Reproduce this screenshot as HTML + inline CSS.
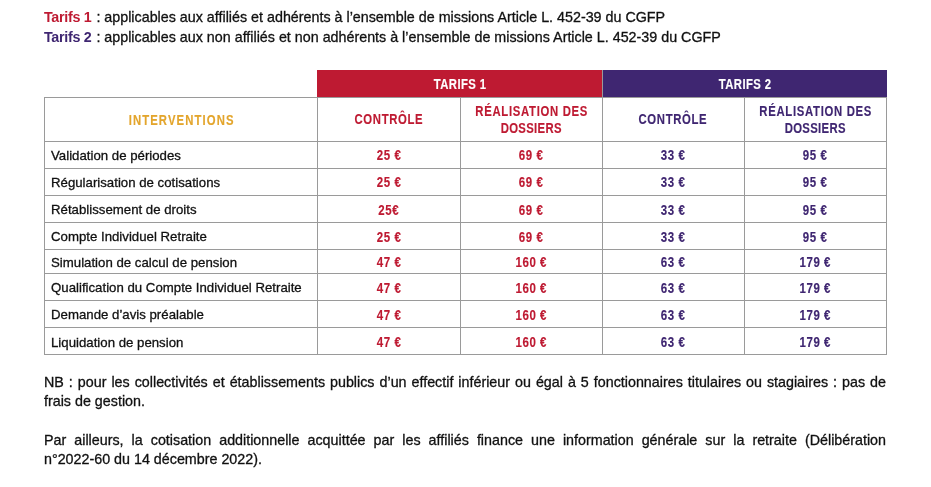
<!DOCTYPE html>
<html><head><meta charset="utf-8"><style>
html,body{margin:0;padding:0;background:#fff;}
body{width:931px;height:487px;position:relative;overflow:hidden;font-family:"Liberation Sans", sans-serif;color:#111111;filter:blur(0.5px);}
.a{position:absolute;white-space:nowrap;-webkit-text-stroke:0.3px currentColor;}
.a b{-webkit-text-stroke:0;}
.h{position:absolute;height:1px;background:#9a9a9a;}
.v{position:absolute;width:1px;background:#9a9a9a;}
.c{position:absolute;text-align:center;white-space:nowrap;font-weight:bold;-webkit-text-stroke:0.15px currentColor;}
.c span{display:inline-block;transform-origin:50% 50%;}
.l{transform-origin:0 50%;}
</style></head><body>
<div class="a" style="left:44px;top:6.75px;font-size:14.3px;line-height:20px;"><b style="color:#be1a32;letter-spacing:-0.3px">Tarifs 1</b><span style="margin-left:1px"> : applicables aux affiliés et adhérents à l’ensemble de missions Article L. 452-39 du CGFP</span></div>
<div class="a" style="left:44px;top:26.55px;font-size:14.3px;line-height:20px;"><b style="color:#3f2671;letter-spacing:-0.3px">Tarifs 2</b><span style="margin-left:1px"> : applicables aux non affiliés et non adhérents à l’ensemble de missions Article L. 452-39 du CGFP</span></div>
<div class="h" style="left:317px;top:70px;width:285px;height:27px;background:#be1a32"></div>
<div class="h" style="left:603px;top:70px;width:284px;height:27px;background:#3f2671"></div>
<div class="v" style="left:602px;top:70px;height:27px"></div>
<div class="c" style="left:317px;width:285px;top:74.82px;font-size:13.8px;line-height:20px;color:#fff"><span style="transform:scaleX(0.82);letter-spacing:0.5px;margin-right:-0.5px">TARIFS 1</span></div>
<div class="c" style="left:603px;width:284px;top:74.82px;font-size:13.8px;line-height:20px;color:#fff"><span style="transform:scaleX(0.82);letter-spacing:0.5px;margin-right:-0.5px">TARIFS 2</span></div>
<div class="h" style="left:44px;top:97px;width:843px"></div>
<div class="h" style="left:44px;top:141px;width:843px"></div>
<div class="h" style="left:44px;top:168px;width:843px"></div>
<div class="h" style="left:44px;top:195px;width:843px"></div>
<div class="h" style="left:44px;top:222px;width:843px"></div>
<div class="h" style="left:44px;top:249px;width:843px"></div>
<div class="h" style="left:44px;top:273px;width:843px"></div>
<div class="h" style="left:44px;top:300px;width:843px"></div>
<div class="h" style="left:44px;top:327px;width:843px"></div>
<div class="h" style="left:44px;top:354px;width:843px"></div>
<div class="v" style="left:44px;top:97px;height:258px"></div>
<div class="v" style="left:317px;top:97px;height:258px"></div>
<div class="v" style="left:460px;top:97px;height:258px"></div>
<div class="v" style="left:602px;top:97px;height:258px"></div>
<div class="v" style="left:744px;top:97px;height:258px"></div>
<div class="v" style="left:886px;top:97px;height:258px"></div>
<div class="c" style="left:44px;width:273px;top:110.82px;font-size:13.8px;line-height:20px;color:#e3a52c"><span style="transform:scaleX(0.82);letter-spacing:1.35px;margin-right:-1.35px">INTERVENTIONS</span></div>
<div class="c" style="left:317px;width:143px;top:110.22px;font-size:13.8px;line-height:20px;color:#be1a32"><span style="transform:scaleX(0.82);letter-spacing:0.8px;margin-right:-0.8px">CONTRÔLE</span></div>
<div class="c" style="left:460px;width:142px;top:101.52px;font-size:13.8px;line-height:20px;color:#be1a32"><span style="transform:scaleX(0.82);letter-spacing:0.85px;margin-right:-0.85px">RÉALISATION DES</span></div>
<div class="c" style="left:460px;width:142px;top:118.72px;font-size:13.8px;line-height:20px;color:#be1a32"><span style="transform:scaleX(0.82);letter-spacing:0.4px;margin-right:-0.4px">DOSSIERS</span></div>
<div class="c" style="left:602px;width:142px;top:110.22px;font-size:13.8px;line-height:20px;color:#3f2671"><span style="transform:scaleX(0.82);letter-spacing:0.8px;margin-right:-0.8px">CONTRÔLE</span></div>
<div class="c" style="left:744px;width:142px;top:101.52px;font-size:13.8px;line-height:20px;color:#3f2671"><span style="transform:scaleX(0.82);letter-spacing:0.85px;margin-right:-0.85px">RÉALISATION DES</span></div>
<div class="c" style="left:744px;width:142px;top:118.72px;font-size:13.8px;line-height:20px;color:#3f2671"><span style="transform:scaleX(0.82);letter-spacing:0.4px;margin-right:-0.4px">DOSSIERS</span></div>
<div class="a l" style="left:50.6px;top:145.79px;font-size:13.6px;line-height:20px;transform:scaleX(0.973)">Validation de périodes</div>
<div class="c" style="left:317px;width:143px;top:145.05px;font-size:14px;line-height:20px;color:#be1a32"><span style="transform:scaleX(0.82);letter-spacing:0.7px;margin-right:-0.7px">25 €</span></div>
<div class="c" style="left:460px;width:142px;top:145.05px;font-size:14px;line-height:20px;color:#be1a32"><span style="transform:scaleX(0.82);letter-spacing:0.7px;margin-right:-0.7px">69 €</span></div>
<div class="c" style="left:602px;width:142px;top:145.05px;font-size:14px;line-height:20px;color:#3f2671"><span style="transform:scaleX(0.82);letter-spacing:0.7px;margin-right:-0.7px">33 €</span></div>
<div class="c" style="left:744px;width:142px;top:145.05px;font-size:14px;line-height:20px;color:#3f2671"><span style="transform:scaleX(0.82);letter-spacing:0.7px;margin-right:-0.7px">95 €</span></div>
<div class="a l" style="left:50.6px;top:172.79px;font-size:13.6px;line-height:20px;transform:scaleX(0.973)">Régularisation de cotisations</div>
<div class="c" style="left:317px;width:143px;top:172.05px;font-size:14px;line-height:20px;color:#be1a32"><span style="transform:scaleX(0.82);letter-spacing:0.7px;margin-right:-0.7px">25 €</span></div>
<div class="c" style="left:460px;width:142px;top:172.05px;font-size:14px;line-height:20px;color:#be1a32"><span style="transform:scaleX(0.82);letter-spacing:0.7px;margin-right:-0.7px">69 €</span></div>
<div class="c" style="left:602px;width:142px;top:172.05px;font-size:14px;line-height:20px;color:#3f2671"><span style="transform:scaleX(0.82);letter-spacing:0.7px;margin-right:-0.7px">33 €</span></div>
<div class="c" style="left:744px;width:142px;top:172.05px;font-size:14px;line-height:20px;color:#3f2671"><span style="transform:scaleX(0.82);letter-spacing:0.7px;margin-right:-0.7px">95 €</span></div>
<div class="a l" style="left:50.6px;top:200.09px;font-size:13.6px;line-height:20px;transform:scaleX(0.973)">Rétablissement de droits</div>
<div class="c" style="left:317px;width:143px;top:199.95px;font-size:14px;line-height:20px;color:#be1a32"><span style="transform:scaleX(0.82);letter-spacing:0.7px;margin-right:-0.7px">25€</span></div>
<div class="c" style="left:460px;width:142px;top:199.95px;font-size:14px;line-height:20px;color:#be1a32"><span style="transform:scaleX(0.82);letter-spacing:0.7px;margin-right:-0.7px">69 €</span></div>
<div class="c" style="left:602px;width:142px;top:199.95px;font-size:14px;line-height:20px;color:#3f2671"><span style="transform:scaleX(0.82);letter-spacing:0.7px;margin-right:-0.7px">33 €</span></div>
<div class="c" style="left:744px;width:142px;top:199.95px;font-size:14px;line-height:20px;color:#3f2671"><span style="transform:scaleX(0.82);letter-spacing:0.7px;margin-right:-0.7px">95 €</span></div>
<div class="a l" style="left:50.6px;top:227.09px;font-size:13.6px;line-height:20px;transform:scaleX(0.973)">Compte Individuel Retraite</div>
<div class="c" style="left:317px;width:143px;top:226.95px;font-size:14px;line-height:20px;color:#be1a32"><span style="transform:scaleX(0.82);letter-spacing:0.7px;margin-right:-0.7px">25 €</span></div>
<div class="c" style="left:460px;width:142px;top:226.95px;font-size:14px;line-height:20px;color:#be1a32"><span style="transform:scaleX(0.82);letter-spacing:0.7px;margin-right:-0.7px">69 €</span></div>
<div class="c" style="left:602px;width:142px;top:226.95px;font-size:14px;line-height:20px;color:#3f2671"><span style="transform:scaleX(0.82);letter-spacing:0.7px;margin-right:-0.7px">33 €</span></div>
<div class="c" style="left:744px;width:142px;top:226.95px;font-size:14px;line-height:20px;color:#3f2671"><span style="transform:scaleX(0.82);letter-spacing:0.7px;margin-right:-0.7px">95 €</span></div>
<div class="a l" style="left:50.6px;top:252.69px;font-size:13.6px;line-height:20px;transform:scaleX(0.973)">Simulation de calcul de pension</div>
<div class="c" style="left:317px;width:143px;top:251.95px;font-size:14px;line-height:20px;color:#be1a32"><span style="transform:scaleX(0.82);letter-spacing:0.7px;margin-right:-0.7px">47 €</span></div>
<div class="c" style="left:460px;width:142px;top:251.95px;font-size:14px;line-height:20px;color:#be1a32"><span style="transform:scaleX(0.82);letter-spacing:0.7px;margin-right:-0.7px">160 €</span></div>
<div class="c" style="left:602px;width:142px;top:251.95px;font-size:14px;line-height:20px;color:#3f2671"><span style="transform:scaleX(0.82);letter-spacing:0.7px;margin-right:-0.7px">63 €</span></div>
<div class="c" style="left:744px;width:142px;top:251.95px;font-size:14px;line-height:20px;color:#3f2671"><span style="transform:scaleX(0.82);letter-spacing:0.7px;margin-right:-0.7px">179 €</span></div>
<div class="a l" style="left:50.6px;top:278.09px;font-size:13.6px;line-height:20px;transform:scaleX(0.973)">Qualification du Compte Individuel Retraite</div>
<div class="c" style="left:317px;width:143px;top:277.95px;font-size:14px;line-height:20px;color:#be1a32"><span style="transform:scaleX(0.82);letter-spacing:0.7px;margin-right:-0.7px">47 €</span></div>
<div class="c" style="left:460px;width:142px;top:277.95px;font-size:14px;line-height:20px;color:#be1a32"><span style="transform:scaleX(0.82);letter-spacing:0.7px;margin-right:-0.7px">160 €</span></div>
<div class="c" style="left:602px;width:142px;top:277.95px;font-size:14px;line-height:20px;color:#3f2671"><span style="transform:scaleX(0.82);letter-spacing:0.7px;margin-right:-0.7px">63 €</span></div>
<div class="c" style="left:744px;width:142px;top:277.95px;font-size:14px;line-height:20px;color:#3f2671"><span style="transform:scaleX(0.82);letter-spacing:0.7px;margin-right:-0.7px">179 €</span></div>
<div class="a l" style="left:50.6px;top:305.09px;font-size:13.6px;line-height:20px;transform:scaleX(0.973)">Demande d’avis préalable</div>
<div class="c" style="left:317px;width:143px;top:304.95px;font-size:14px;line-height:20px;color:#be1a32"><span style="transform:scaleX(0.82);letter-spacing:0.7px;margin-right:-0.7px">47 €</span></div>
<div class="c" style="left:460px;width:142px;top:304.95px;font-size:14px;line-height:20px;color:#be1a32"><span style="transform:scaleX(0.82);letter-spacing:0.7px;margin-right:-0.7px">160 €</span></div>
<div class="c" style="left:602px;width:142px;top:304.95px;font-size:14px;line-height:20px;color:#3f2671"><span style="transform:scaleX(0.82);letter-spacing:0.7px;margin-right:-0.7px">63 €</span></div>
<div class="c" style="left:744px;width:142px;top:304.95px;font-size:14px;line-height:20px;color:#3f2671"><span style="transform:scaleX(0.82);letter-spacing:0.7px;margin-right:-0.7px">179 €</span></div>
<div class="a l" style="left:50.6px;top:333.09px;font-size:13.6px;line-height:20px;transform:scaleX(0.973)">Liquidation de pension</div>
<div class="c" style="left:317px;width:143px;top:332.35px;font-size:14px;line-height:20px;color:#be1a32"><span style="transform:scaleX(0.82);letter-spacing:0.7px;margin-right:-0.7px">47 €</span></div>
<div class="c" style="left:460px;width:142px;top:332.35px;font-size:14px;line-height:20px;color:#be1a32"><span style="transform:scaleX(0.82);letter-spacing:0.7px;margin-right:-0.7px">160 €</span></div>
<div class="c" style="left:602px;width:142px;top:332.35px;font-size:14px;line-height:20px;color:#3f2671"><span style="transform:scaleX(0.82);letter-spacing:0.7px;margin-right:-0.7px">63 €</span></div>
<div class="c" style="left:744px;width:142px;top:332.35px;font-size:14px;line-height:20px;color:#3f2671"><span style="transform:scaleX(0.82);letter-spacing:0.7px;margin-right:-0.7px">179 €</span></div>
<div class="a" style="left:44px;top:373.05px;width:842px;font-size:14.3px;line-height:19px;white-space:normal;text-align:justify;text-align-last:justify">NB : pour les collectivités et établissements publics d’un effectif inférieur ou égal à 5 fonctionnaires titulaires ou stagiaires : pas de</div>
<div class="a" style="left:44px;top:392.05px;font-size:14.3px;line-height:19px">frais de gestion.</div>
<div class="a" style="left:44px;top:431.05px;width:842px;font-size:14.3px;line-height:19px;white-space:normal;text-align:justify;text-align-last:justify">Par ailleurs, la cotisation additionnelle acquittée par les affiliés finance une information générale sur la retraite (Délibération</div>
<div class="a" style="left:44px;top:449.95px;font-size:14.3px;line-height:19px">n°2022-60 du 14 décembre 2022).</div>
</body></html>
